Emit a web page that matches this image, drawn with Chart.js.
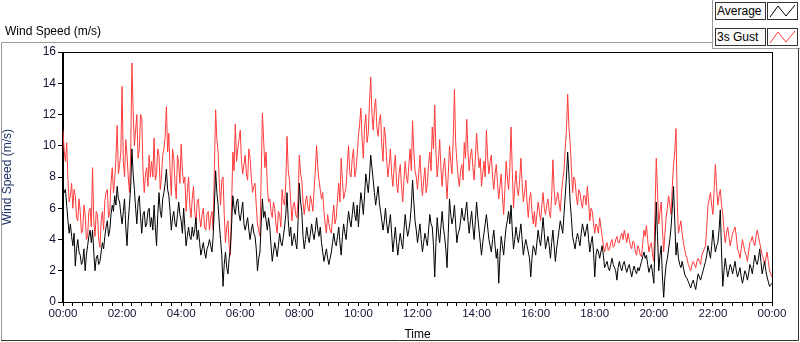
<!DOCTYPE html>
<html>
<head>
<meta charset="utf-8">
<script src="https://cdn.jsdelivr.net/npm/chart.js@4.4.1/dist/chart.umd.min.js"></script>
<style>
  body { margin: 0; background: #fff; font-family: "Liberation Sans", Arial, sans-serif; }
  #wrap { position: relative; width: 800px; height: 342px; }
  #title { position: absolute; left: 5px; top: 24px; font-size: 12px; color: #000; }
  .lg { position: absolute; left: 715px; width: 48px; height: 16px; border: 1px solid #333;
        background: #fafafa; font-size: 12px; line-height: 16px; padding-left: 1px; box-sizing: content-box; }
  .ic { position: absolute; left: 767px; width: 29px; height: 16px; border: 1px solid #333; background: #fff; }
</style>
</head>
<body>
<div id="wrap">
  <canvas id="myChart" width="800" height="342"></canvas>
  <div id="title">Wind Speed (m/s)</div>
  <div class="lg" style="top:2px">Average</div>
  <div class="ic" style="top:2px"><svg width="29" height="16"><polyline points="2,14 10,3 18,13 27,2" fill="none" stroke="#000" stroke-width="1"/></svg></div>
  <div class="lg" style="top:28px">3s Gust</div>
  <div class="ic" style="top:28px"><svg width="29" height="16"><polyline points="2,14 10,3 18,13 27,2" fill="none" stroke="#ff3b3b" stroke-width="1"/></svg></div>
</div>
<script>
// readings every 5 minutes from 00:00 to 24:00, plus the reading half way between each
var stepMinutes = 5;

var gust = [
  11.0, 9.0, 7.8, 6.8, 6.0, 6.8, 5.2, 5.8, 4.6, 5.6, 4.2, 6.0,
  8.6, 4.2, 5.6, 3.5, 5.8, 6.5, 7.2, 5.8, 8.6, 7.8, 11.3, 8.8,
  13.8, 8.0, 9.4, 7.0, 15.3, 10.0, 12.0, 9.8, 11.8, 7.0, 8.6, 9.4,
  9.0, 10.5, 8.2, 9.4, 8.0, 9.8, 12.5, 10.8, 6.8, 9.2, 6.6, 8.8,
  10.1, 7.6, 5.8, 8.0, 5.4, 7.4, 5.0, 6.6, 4.8, 6.0, 4.6, 5.8,
  5.4, 4.6, 12.3, 9.6, 6.2, 8.0, 3.8, 5.2, 3.0, 9.6, 11.4, 9.8,
  11.0, 8.2, 9.4, 7.8, 9.2, 7.0, 7.6, 5.0, 4.2, 12.1, 8.6, 7.4,
  6.6, 5.4, 6.0, 4.4, 5.6, 7.2, 6.2, 10.6, 7.8, 5.2, 6.4, 5.4,
  9.4, 7.8, 5.6, 6.8, 5.8, 6.4, 7.2, 10.0, 7.8, 6.6, 5.8, 4.4,
  5.0, 4.4, 6.2, 5.4, 7.6, 9.2, 6.6, 7.4, 10.0, 8.0, 9.8, 8.4,
  10.6, 12.4, 9.2, 12.0, 10.8, 14.4, 11.0, 13.0, 10.6, 12.0, 9.0, 10.6,
  8.0, 9.8, 7.4, 9.4, 7.0, 8.8, 6.4, 9.0, 7.6, 9.8, 11.6, 8.4,
  7.2, 9.4, 6.8, 8.6, 7.6, 9.6, 11.2, 12.6, 8.0, 10.4, 7.4, 9.2,
  6.6, 10.0, 8.2, 13.6, 9.0, 7.4, 8.8, 10.2, 11.7, 8.4, 9.8, 7.8,
  10.8, 8.6, 7.4, 9.0, 11.0, 8.2, 9.4, 7.2, 8.8, 6.6, 8.2, 5.6,
  9.0, 7.2, 11.2, 6.0, 8.4, 6.8, 9.2, 6.4, 7.8, 5.4, 7.0, 5.0,
  4.8, 6.4, 5.2, 7.0, 5.6, 6.6, 5.4, 9.1, 6.2, 7.0, 5.8, 7.8,
  9.8, 13.3, 10.2, 7.0, 7.8, 6.2, 7.0, 6.0, 6.8, 7.4, 5.2, 5.8,
  4.4, 4.8, 5.4, 4.2, 3.2, 3.8, 3.4, 4.0, 3.6, 4.2, 3.8, 4.4,
  4.6, 3.8, 4.0, 3.4, 3.8, 3.0, 3.4, 2.9, 4.6, 4.9, 3.2, 3.8,
  2.6, 9.2, 5.0, 6.4, 3.2, 5.4, 6.8, 5.6, 8.8, 11.1, 4.4, 5.2,
  3.8, 3.0, 2.4, 2.0, 2.6, 2.2, 2.8, 2.4, 3.2, 3.6, 6.2, 7.0,
  5.6, 8.8, 6.2, 7.2, 5.6, 3.8, 4.8, 3.6, 4.4, 4.8, 3.4, 2.8,
  4.0, 3.2, 2.6, 3.8, 4.2, 3.6, 4.6, 3.8, 3.0, 2.4, 3.2, 2.0, 1.6
];

var gustMid = [
  9.6, 10.2, 6.4, 7.6, 7.2, 5.4, 6.6, 4.4, 6.2, 4.0, 5.8, 4.8,
  5.2, 5.8, 4.0, 5.2, 4.6, 7.0, 5.4, 7.6, 7.0, 9.2, 8.2, 9.6,
  9.0, 10.4, 8.0, 9.6, 12.2, 11.0, 9.2, 12.0, 8.4, 8.2, 7.4, 8.0,
  8.0, 7.8, 9.8, 7.2, 9.4, 10.6, 9.6, 8.4, 9.8, 7.6, 9.4, 7.6,
  8.4, 8.0, 7.0, 6.2, 6.6, 5.8, 6.4, 5.4, 5.6, 4.8, 5.6, 4.6,
  5.8, 8.6, 10.4, 7.6, 7.8, 5.6, 4.8, 3.6, 6.2, 8.4, 9.0, 10.4,
  9.0, 8.8, 8.2, 9.8, 8.0, 7.4, 6.2, 4.6, 8.0, 10.4, 9.6, 6.4,
  5.8, 6.4, 5.0, 5.8, 4.8, 6.4, 7.6, 8.4, 6.4, 6.2, 5.6, 6.6,
  8.2, 6.4, 6.4, 6.0, 6.8, 5.8, 8.4, 8.6, 7.2, 7.0, 5.0, 5.6,
  4.6, 5.4, 5.0, 6.6, 6.4, 7.8, 7.0, 8.8, 8.2, 9.2, 8.0, 9.4,
  11.4, 10.4, 11.2, 10.2, 12.8, 12.0, 12.4, 11.2, 11.6, 10.0, 11.2, 9.0,
  8.8, 8.2, 8.6, 7.6, 8.2, 7.4, 7.8, 8.0, 8.8, 8.4, 9.6, 8.0,
  8.2, 7.8, 7.8, 7.0, 8.8, 8.4, 9.8, 9.6, 9.0, 8.6, 8.6, 8.0,
  8.2, 9.0, 10.4, 10.2, 8.0, 8.4, 7.8, 9.2, 9.6, 9.4, 8.6, 9.2,
  9.6, 9.2, 8.2, 8.0, 9.2, 9.0, 8.0, 8.2, 7.6, 7.4, 6.8, 7.2,
  8.0, 8.6, 8.4, 7.4, 7.2, 7.8, 7.6, 7.0, 6.4, 6.6, 5.8, 5.8,
  5.6, 5.8, 6.2, 6.0, 6.2, 5.8, 6.8, 7.2, 6.6, 6.4, 7.0, 8.4,
  11.0, 11.2, 8.6, 8.0, 6.8, 7.2, 6.4, 6.8, 6.2, 6.4, 6.0, 5.0,
  5.0, 4.4, 4.8, 3.6, 3.6, 3.3, 3.8, 3.5, 4.0, 3.8, 4.2, 4.0,
  4.2, 4.4, 3.6, 3.9, 3.2, 3.6, 3.0, 3.8, 4.2, 4.0, 3.6, 3.0,
  6.0, 7.0, 5.8, 4.6, 4.4, 6.0, 6.2, 7.4, 9.6, 6.4, 4.8, 4.4,
  3.4, 2.8, 2.2, 2.4, 2.4, 2.6, 2.6, 3.0, 3.4, 4.8, 6.6, 6.2,
  7.2, 7.4, 6.8, 6.2, 4.6, 4.4, 4.2, 4.0, 4.6, 4.2, 3.2, 3.4,
  3.6, 3.0, 3.2, 3.9, 3.8, 4.2, 4.2, 3.4, 2.8, 2.8, 2.6, 1.8
];

var average = [
  7.5, 7.2, 5.2, 5.0, 3.6, 2.3, 4.0, 3.0, 2.6, 2.0, 3.6, 4.6,
  4.6, 2.0, 3.0, 2.6, 3.8, 4.2, 5.2, 4.6, 6.2, 6.8, 7.4, 6.4,
  5.0, 6.6, 3.6, 6.2, 9.8, 7.2, 5.0, 6.8, 4.4, 5.8, 5.0, 6.0,
  5.4, 6.2, 3.6, 7.0, 5.4, 7.0, 8.5, 6.8, 4.6, 5.8, 4.8, 6.4,
  5.2, 6.0, 3.6, 4.8, 4.0, 4.2, 5.4, 4.6, 3.0, 3.8, 2.8, 3.6,
  3.6, 4.2, 8.4, 6.2, 4.0, 1.0, 3.2, 1.8, 3.4, 6.8, 5.6, 6.6,
  5.2, 6.4, 4.6, 5.4, 4.0, 5.0, 4.2, 2.0, 3.2, 6.6, 5.8, 4.6,
  4.8, 2.6, 3.8, 2.9, 4.4, 3.6, 4.8, 7.0, 4.2, 3.6, 4.4, 3.4,
  7.6, 5.8, 3.4, 4.8, 3.8, 5.0, 4.0, 5.4, 4.2, 3.8, 2.6, 3.4,
  2.4, 3.2, 4.4, 3.6, 4.8, 3.0, 5.0, 4.0, 5.8, 4.8, 6.4, 5.2,
  4.8, 7.0, 5.6, 8.2, 7.0, 9.4, 7.8, 6.2, 7.4, 5.8, 4.6, 6.0,
  4.4, 5.6, 3.2, 4.8, 3.0, 4.4, 3.4, 5.6, 4.2, 5.2, 7.8, 5.2,
  3.8, 5.0, 3.2, 4.4, 3.6, 5.6, 4.8, 1.6, 5.4, 3.8, 5.8, 4.2,
  2.2, 6.6, 5.0, 6.2, 3.8, 4.6, 6.0, 5.2, 6.4, 4.4, 5.8, 4.0,
  6.4, 4.6, 3.0, 4.4, 5.6, 4.0, 3.2, 4.6, 2.8, 1.2, 4.2, 3.0,
  4.8, 5.8, 6.2, 3.4, 4.8, 3.8, 5.0, 3.0, 4.0, 3.2, 1.6, 3.6,
  3.0, 4.6, 3.6, 5.4, 3.4, 4.2, 2.8, 4.6, 2.6, 4.0, 5.2, 4.4,
  6.8, 9.6, 6.4, 4.2, 3.4, 4.4, 3.6, 5.0, 4.2, 5.0, 3.2, 4.2,
  1.6, 3.4, 2.8, 3.6, 2.2, 2.6, 2.0, 2.8, 2.2, 1.4, 2.6, 2.0,
  2.6, 1.9, 2.4, 1.6, 2.3, 1.8, 2.0, 2.6, 3.2, 3.0, 1.9, 2.4,
  1.2, 6.4, 2.0, 3.6, 0.3, 2.4, 3.4, 4.8, 7.4, 3.0, 2.8, 2.2,
  2.2, 1.6, 1.3, 0.9, 1.4, 0.8, 1.8, 1.4, 2.0, 2.6, 3.6, 2.8,
  4.6, 3.2, 3.8, 5.9, 1.0, 2.8, 1.6, 2.4, 1.8, 2.6, 1.6, 2.2,
  1.2, 2.0, 1.4, 2.4, 1.8, 3.0, 2.4, 3.4, 1.8, 2.6, 1.6, 1.0, 1.2
];

var averageMid = [
  7.0, 6.2, 4.4, 4.2, 4.4, 3.4, 3.2, 2.4, 3.4, 3.0, 4.2, 3.8,
  3.2, 2.8, 2.4, 3.2, 3.4, 4.8, 4.2, 5.6, 5.8, 6.2, 6.6, 5.6,
  5.8, 4.8, 5.2, 7.4, 8.2, 6.0, 6.4, 5.4, 5.6, 4.8, 5.8, 4.8,
  4.6, 4.8, 5.6, 5.8, 6.6, 7.6, 7.2, 5.8, 5.4, 5.0, 5.6, 5.6,
  4.4, 4.8, 4.2, 4.2, 4.8, 4.6, 4.0, 3.8, 3.4, 3.2, 3.4, 4.0,
  3.2, 6.2, 7.0, 5.0, 3.0, 2.4, 2.2, 2.8, 5.0, 6.0, 6.4, 5.6,
  5.8, 5.0, 5.0, 4.6, 4.6, 4.4, 3.4, 2.8, 5.0, 5.4, 5.2, 5.4,
  3.6, 3.2, 3.4, 3.6, 3.8, 4.2, 5.6, 5.2, 4.8, 4.0, 3.8, 5.2,
  6.4, 4.2, 4.0, 4.2, 4.4, 4.4, 4.6, 4.6, 4.8, 3.2, 3.0, 2.8,
  2.8, 3.8, 3.8, 4.2, 3.8, 4.2, 4.4, 5.0, 5.2, 5.6, 5.6, 6.2,
  6.0, 6.4, 6.8, 7.6, 8.0, 8.6, 7.0, 6.8, 6.4, 5.2, 5.2, 5.0,
  5.0, 4.4, 4.0, 3.8, 3.8, 3.8, 4.6, 4.8, 4.6, 6.2, 6.4, 4.6,
  4.4, 4.0, 3.8, 4.0, 4.6, 5.0, 3.6, 3.8, 4.4, 4.8, 4.8, 3.4,
  4.4, 5.6, 5.4, 5.0, 4.4, 5.2, 5.4, 5.8, 5.2, 5.2, 4.8, 5.2,
  5.4, 3.8, 3.8, 5.0, 4.8, 3.6, 4.0, 3.6, 3.4, 3.0, 3.6, 4.0,
  5.2, 5.0, 4.6, 4.0, 4.2, 4.4, 4.0, 3.6, 3.6, 2.8, 2.8, 3.4,
  3.8, 4.0, 4.4, 4.4, 3.8, 3.6, 3.8, 3.6, 3.4, 4.6, 4.8, 5.6,
  8.0, 8.2, 5.4, 3.8, 4.0, 4.0, 4.4, 4.6, 4.6, 4.0, 3.8, 3.2,
  3.0, 3.2, 3.2, 3.0, 2.4, 2.2, 2.4, 2.4, 2.0, 2.2, 2.2, 2.4,
  2.2, 2.2, 2.0, 2.0, 2.0, 2.2, 2.3, 2.9, 2.8, 2.4, 2.2, 1.8,
  3.8, 4.2, 3.0, 1.6, 1.6, 2.8, 4.0, 6.0, 5.2, 3.8, 2.4, 2.6,
  1.8, 1.5, 1.1, 1.2, 1.1, 1.3, 1.6, 1.7, 2.3, 3.0, 3.2, 3.6,
  3.8, 3.6, 4.6, 3.2, 2.0, 2.2, 2.0, 2.2, 2.2, 2.0, 1.9, 1.6,
  1.6, 1.8, 1.8, 2.2, 2.4, 2.6, 2.8, 2.6, 2.2, 2.0, 1.3, 1.1
];

var timeTicks = ["00:00", "02:00", "04:00", "06:00", "08:00", "10:00", "12:00",
                 "14:00", "16:00", "18:00", "20:00", "22:00", "00:00"];

function toPoints(main, mid) {
  var pts = [];
  main.forEach(function (v, i) {
    pts.push({ x: i * stepMinutes, y: v });
    if (i < mid.length) pts.push({ x: i * stepMinutes + stepMinutes / 2, y: mid[i] });
  });
  return pts;
}

// LabVIEW style frame around plot and panel
var framePlugin = {
  id: 'frame',
  beforeDraw: function (chart) {
    var c = chart.ctx;
    c.save();
    c.strokeStyle = '#9a9a9a';
    c.lineWidth = 1;
    c.beginPath();
    c.moveTo(1.5, 341); c.lineTo(1.5, 42.5); c.lineTo(712.5, 42.5);
    c.moveTo(712.5, 0); c.lineTo(712.5, 48.5); c.lineTo(800, 48.5);
    c.stroke();
    c.strokeStyle = '#333';
    c.beginPath();
    c.moveTo(798.5, 48.5); c.lineTo(798.5, 340.5); c.lineTo(1, 340.5);
    c.stroke();
    c.restore();
  },
  afterDraw: function (chart) {
    var a = chart.chartArea, c = chart.ctx;
    c.save();
    c.strokeStyle = '#000';
    c.lineWidth = 1;
    c.strokeRect(Math.round(a.left) - 0.5, Math.round(a.top) + 0.5,
                 Math.round(a.right - a.left) + 1, Math.round(a.bottom - a.top));
    c.restore();
  }
};

var ctx = document.getElementById('myChart').getContext('2d');
var chart = new Chart(ctx, {
    type: 'line',
    data: {
        datasets: [{
            label: "Average",
            borderColor: '#000000',
            data: toPoints(average, averageMid)
        },
        {
            label: "3s Gust",
            borderColor: '#ff3b3b',
            data: toPoints(gust, gustMid)
        }]
    },
    options: {
        responsive: false,
        animation: false,
        layout: { padding: { top: 52, right: 28, left: 0, bottom: 0 } },
        elements: {
            point: { radius: 0 },
            line: { borderWidth: 1, tension: 0 }
        },
        plugins: { legend: { display: false }, tooltip: { enabled: false } },
        scales: {
            x: {
                type: 'linear',
                min: 0,
                max: 1440,
                afterFit: function (s) { s.height = 40; },
                grid: { drawOnChartArea: false, tickLength: 4, color: '#000' },
                border: { color: '#000' },
                ticks: {
                    stepSize: 20,
                    autoSkip: false,
                    maxRotation: 0,
                    padding: 1,
                    color: '#111133',
                    font: { family: 'Liberation Sans', size: 11.5 },
                    callback: function (v) { return v % 120 === 0 ? timeTicks[v / 120] : ''; }
                },
                title: {
                    display: true, text: 'Time', color: '#000',
                    padding: { top: 0, bottom: 0 },
                    font: { family: 'Liberation Sans', size: 12 }
                }
            },
            y: {
                min: 0,
                max: 16,
                afterFit: function (s) { s.width = 63; },
                grid: { drawOnChartArea: false, tickLength: 5, color: '#000' },
                border: { color: '#000' },
                ticks: {
                    stepSize: 2,
                    padding: 2,
                    color: '#111133',
                    font: { family: 'Liberation Sans', size: 12 }
                },
                title: {
                    display: true, text: 'Wind Speed (m/s)', color: '#1f3266',
                    padding: { top: 0, bottom: 2 },
                    font: { family: 'Liberation Sans', size: 12 }
                }
            }
        }
    },
    plugins: [framePlugin]
});
</script>
</body>
</html>
